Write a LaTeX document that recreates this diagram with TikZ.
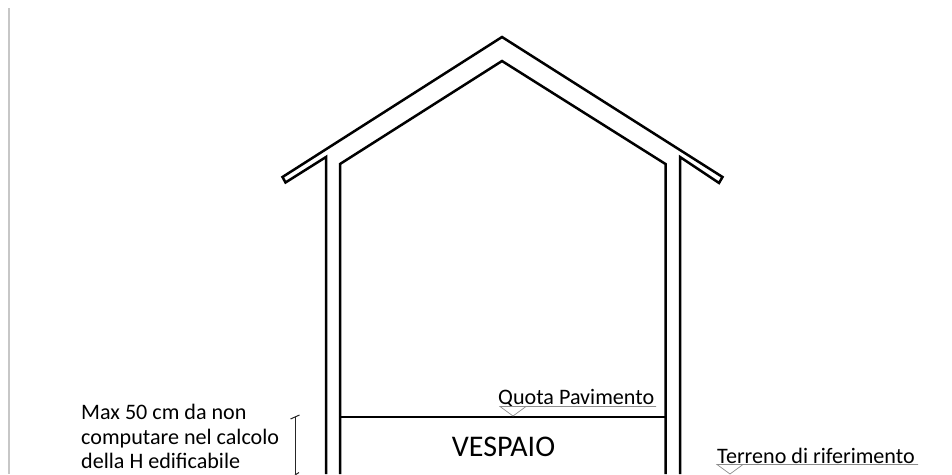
\documentclass[tikz,border=0pt]{standalone}
\usepackage{fontspec}
\setmainfont{Carlito}
\tikzset{
 wall/.style={draw=black,line width=2.5pt,line join=miter},
 dimline/.style={draw=black!85,line width=1pt},
 grayline/.style={draw=black!45,line width=0.7pt},
 lbl/.style={inner sep=0pt,anchor=base west,font=\fontsize{22.1}{22.1}\selectfont},
}
\begin{document}
\begin{tikzpicture}[x=1pt,y=-1pt]
\useasboundingbox (0,0) rectangle (952,474);
\draw[draw=black!22,line width=2pt] (9,8) -- (9,474);
% building
\coordinate (apexO) at (502,37);
\coordinate (apexI) at (502,61);
\coordinate (tipL) at (282.5,177);
\coordinate (lowL) at (285.5,182.5);
\coordinate (eaveL) at (326,157);
\coordinate (wallLO) at (326,474);
\coordinate (ceilL) at (340,164);
\coordinate (wallLI) at (340,474);
\coordinate (tipR) at (722.5,177);
\coordinate (lowR) at (719,183);
\coordinate (eaveR) at (680,157);
\coordinate (wallRO) at (680,474);
\coordinate (ceilR) at (665.5,164);
\coordinate (wallRI) at (665.5,474);
\path[wall] (wallLO) -- (eaveL) -- (lowL) -- (tipL) -- (apexO) -- (tipR) -- (lowR) -- (eaveR) -- (wallRO);
\path[wall] (wallLI) -- (ceilL) -- (apexI) -- (ceilR) -- (wallRI);
\coordinate (floorL) at (340,417);
\coordinate (floorR) at (665.5,417);
\path[wall] (floorL) -- (floorR);
% labels
\node[lbl] (maxa) at (81,419) {Max 50 cm da non};
\node[lbl] (maxb) at (81,444) {computare nel calcolo};
\node[lbl] (maxc) at (81,468) {della H edificabile};
\node[inner sep=0pt,anchor=base,font=\fontsize{30}{30}\selectfont] (vespaio) at (503.5,456.5) {VESPAIO};
\node[lbl] (quota) at (498,404) {Quota Pavimento};
\node[lbl] (terreno) at (717,463) {Terreno di riferimento};
% dimension
\coordinate (dimT) at (295,417);
\coordinate (dimB) at (295,474);
\coordinate (tickTa) at (290.5,419);
\coordinate (tickTb) at (299.5,415);
\coordinate (tickBa) at (295,475);
\coordinate (tickBb) at (299,472.5);
\path[dimline] (dimT) -- (dimB);
\path[dimline] (tickTa) -- (tickTb);
\path[dimline] (tickBa) -- (tickBb);
% level marks
\coordinate (qa) at (500,406.5);
\coordinate (qb) at (656,406.5);
\coordinate (qc) at (526,406.5);
\coordinate (qd) at (513,416);
\path[grayline] (qb) -- (qa) -- (qd) -- (qc);
\coordinate (ta) at (717,464.5);
\coordinate (tb) at (918,464.5);
\coordinate (tc) at (743,464.5);
\coordinate (td) at (730,474);
\path[grayline] (tb) -- (ta) -- (td) -- (tc);
\end{tikzpicture}
\end{document}
